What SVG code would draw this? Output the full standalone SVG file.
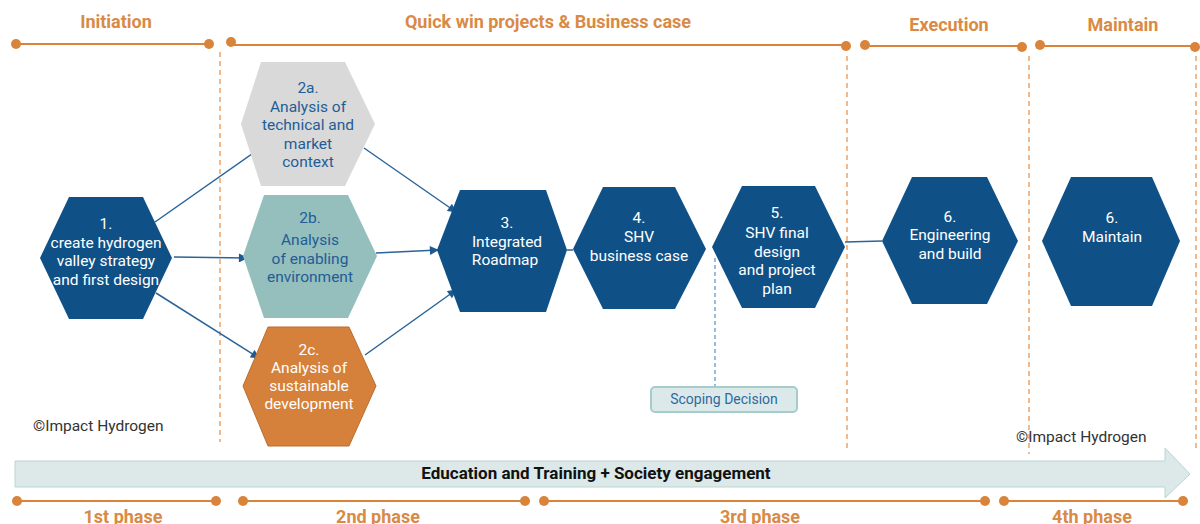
<svg xmlns="http://www.w3.org/2000/svg" width="1200" height="524" viewBox="0 0 1200 524">
  <style>
    .phase { font-family: Roboto, "Liberation Sans", sans-serif; font-weight: bold; font-size: 18px; fill: #d98a44; text-anchor: middle; }
    .tl { stroke: #d9843a; stroke-width: 2.2; fill: none; }
    .dot { fill: #d9843a; }
    .sep { stroke: #ea9550; stroke-width: 1.3; stroke-dasharray: 5 4; fill: none; }
    .hex { fill: #0f5187; }
    .lbl { font-family: Roboto, "Liberation Sans", sans-serif; font-size: 15.5px; fill: #ffffff; text-anchor: middle; }
    .lbl-dark { fill: #1f5d96; }
    .conn { stroke: #2a6498; stroke-width: 1.5; fill: none; }
    .copy { font-family: Roboto, "Liberation Sans", sans-serif; font-size: 15.5px; fill: #333333; }
  </style>
  <defs>
    <marker id="arrow" viewBox="0 0 10 10" refX="9" refY="5" markerWidth="10" markerHeight="9" orient="auto" markerUnits="userSpaceOnUse">
      <path d="M0,0 L10,5 L0,10 z" fill="#1e5a90"/>
    </marker>
  </defs>

  <rect width="1200" height="524" fill="#ffffff"/>

  <!-- top timeline -->
  <g id="timeline-top">
    <text class="phase" x="116" y="28">Initiation</text>
    <text class="phase" x="548" y="28">Quick win projects &amp; Business case</text>
    <text class="phase" x="949" y="31">Execution</text>
    <text class="phase" x="1123" y="31">Maintain</text>
    <line class="tl" x1="16" y1="44" x2="209" y2="44"/>
    <circle class="dot" cx="16" cy="44" r="5"/>
    <circle class="dot" cx="209" cy="44" r="5"/>
    <line class="tl" x1="231" y1="45" x2="846" y2="45"/>
    <circle class="dot" cx="231" cy="42" r="5"/>
    <circle class="dot" cx="846" cy="46" r="5"/>
    <line class="tl" x1="865" y1="46" x2="1022" y2="46"/>
    <circle class="dot" cx="865" cy="45" r="5"/>
    <circle class="dot" cx="1022" cy="47" r="5"/>
    <line class="tl" x1="1040" y1="46" x2="1194" y2="46"/>
    <circle class="dot" cx="1040" cy="45" r="5"/>
    <circle class="dot" cx="1195" cy="47" r="5"/>
  </g>

  <!-- phase separators -->
  <g id="separators">
    <line class="sep" x1="220" y1="52" x2="220" y2="442"/>
    <line class="sep" x1="847" y1="56" x2="847" y2="448"/>
    <line class="sep" x1="1029" y1="56" x2="1029" y2="454"/>
    <line class="sep" x1="1196" y1="56" x2="1196" y2="448"/>
  </g>

  <!-- connectors -->
  <g id="connectors">
    <line class="conn" x1="155" y1="222" x2="259" y2="149" marker-end="url(#arrow)"/>
    <line class="conn" x1="174" y1="257" x2="247" y2="258" marker-end="url(#arrow)"/>
    <line class="conn" x1="156" y1="293" x2="259" y2="358" marker-end="url(#arrow)"/>
    <line class="conn" x1="364" y1="148" x2="456" y2="212" marker-end="url(#arrow)"/>
    <line class="conn" x1="376" y1="253" x2="438" y2="250" marker-end="url(#arrow)"/>
    <line class="conn" x1="365" y1="355" x2="456" y2="290" marker-end="url(#arrow)"/>
    <line class="conn" x1="567" y1="250" x2="573" y2="250"/>
    <line class="conn" x1="845" y1="242" x2="882" y2="241"/>
    <line x1="715" y1="258" x2="715" y2="386" stroke="#5b8fc9" stroke-width="1.2" stroke-dasharray="4 3"/>
  </g>

  <!-- 1 -->
  <g id="node-1">
    <polygon class="hex" points="40,258 69,197 143,197 172,258 143,319 69,319"/>
    <text class="lbl" x="106" y="229">1.</text>
    <text class="lbl" x="106" y="248">create hydrogen</text>
    <text class="lbl" x="106" y="266">valley strategy</text>
    <text class="lbl" x="106" y="285">and first design</text>
  </g>

  <!-- 2a -->
  <g id="node-2a">
    <polygon points="241,124 261,62 345,62 375,124 345,186 261,186" fill="#d9d9d9"/>
    <text class="lbl lbl-dark" x="308" y="93">2a.</text>
    <text class="lbl lbl-dark" x="308" y="112">Analysis of</text>
    <text class="lbl lbl-dark" x="308" y="130">technical and</text>
    <text class="lbl lbl-dark" x="308" y="149">market</text>
    <text class="lbl lbl-dark" x="308" y="167">context</text>
  </g>

  <!-- 2b -->
  <g id="node-2b">
    <polygon points="243,256 264,195 348,195 377,256 348,318 264,318" fill="#95bfbd"/>
    <text class="lbl lbl-dark" x="310" y="223">2b.</text>
    <text class="lbl lbl-dark" x="310" y="245">Analysis</text>
    <text class="lbl lbl-dark" x="310" y="264">of enabling</text>
    <text class="lbl lbl-dark" x="310" y="282">environment</text>
  </g>

  <!-- 2c -->
  <g id="node-2c">
    <polygon points="243,386 268,327 349,327 376,386 349,446 268,446" fill="#d5813b" stroke="#b96e2f" stroke-width="1"/>
    <text class="lbl" x="309" y="355">2c.</text>
    <text class="lbl" x="309" y="373">Analysis of</text>
    <text class="lbl" x="309" y="391">sustainable</text>
    <text class="lbl" x="309" y="409">development</text>
  </g>

  <!-- 3 -->
  <g id="node-3">
    <polygon class="hex" points="437,250 460,190 546,190 567,250 546,312 460,312"/>
    <text class="lbl" x="507" y="228">3.</text>
    <text class="lbl" x="507" y="247">Integrated</text>
    <text class="lbl" x="505" y="265">Roadmap</text>
  </g>

  <!-- 4 -->
  <g id="node-4">
    <polygon class="hex" points="573,249 603,187 675,187 706,249 675,309 603,309"/>
    <text class="lbl" x="639" y="223">4.</text>
    <text class="lbl" x="639" y="242">SHV</text>
    <text class="lbl" x="639" y="261">business case</text>
  </g>

  <!-- 5 -->
  <g id="node-5">
    <polygon class="hex" points="712,247 742,186 815,186 845,247 815,308 742,308"/>
    <text class="lbl" x="777" y="218">5.</text>
    <text class="lbl" x="777" y="238">SHV final</text>
    <text class="lbl" x="777" y="257">design</text>
    <text class="lbl" x="777" y="275">and  project</text>
    <text class="lbl" x="777" y="294">plan</text>
  </g>

  <!-- 6 engineering -->
  <g id="node-6-engineering">
    <polygon class="hex" points="882,241 912,177 987,177 1018,241 987,304 912,304"/>
    <text class="lbl" x="950" y="222">6.</text>
    <text class="lbl" x="950" y="240">Engineering</text>
    <text class="lbl" x="950" y="259">and build</text>
  </g>

  <!-- 6 maintain -->
  <g id="node-6-maintain">
    <polygon class="hex" points="1042,241 1071,177 1152,177 1180,241 1152,306 1071,306"/>
    <text class="lbl" x="1112" y="223">6.</text>
    <text class="lbl" x="1112" y="242">Maintain</text>
  </g>

  <!-- scoping decision -->
  <g id="scoping-decision">
    <rect x="651" y="387" width="146" height="25" rx="4" fill="#dce9ea" stroke="#a7cccc" stroke-width="2"/>
    <text x="724" y="404" font-family="Roboto, 'Liberation Sans', sans-serif" font-size="14" fill="#2e6a9e" text-anchor="middle">Scoping Decision</text>
  </g>

  <!-- copyright notes -->
  <text class="copy" x="33" y="431">©Impact Hydrogen</text>
  <text class="copy" x="1016" y="442">©Impact Hydrogen</text>

  <!-- education band -->
  <g id="education">
    <polygon points="15,461 1165,461 1165,448 1190,474 1165,498 1165,487 15,487" fill="#dce9e8" stroke="#b9d6d4" stroke-width="1"/>
    <text x="596" y="479" font-family="Roboto, 'Liberation Sans', sans-serif" font-weight="bold" font-size="17" fill="#111111" text-anchor="middle">Education and Training + Society engagement</text>
  </g>

  <!-- bottom timeline -->
  <g id="timeline-bottom">
    <line class="tl" x1="17" y1="501" x2="216" y2="501"/>
    <circle class="dot" cx="17" cy="501" r="5"/>
    <circle class="dot" cx="216" cy="501" r="5"/>
    <line class="tl" x1="243" y1="501" x2="525" y2="501"/>
    <circle class="dot" cx="243" cy="501" r="5"/>
    <circle class="dot" cx="525" cy="501" r="5"/>
    <line class="tl" x1="544" y1="501" x2="985" y2="501"/>
    <circle class="dot" cx="544" cy="501" r="5"/>
    <circle class="dot" cx="985" cy="501" r="5"/>
    <line class="tl" x1="1004" y1="501" x2="1183" y2="501"/>
    <circle class="dot" cx="1004" cy="501" r="5"/>
    <circle class="dot" cx="1183" cy="501" r="5"/>
    <text class="phase" x="123" y="523">1st phase</text>
    <text class="phase" x="378" y="523">2nd phase</text>
    <text class="phase" x="760" y="523">3rd phase</text>
    <text class="phase" x="1092" y="523">4th phase</text>
  </g>
</svg>
